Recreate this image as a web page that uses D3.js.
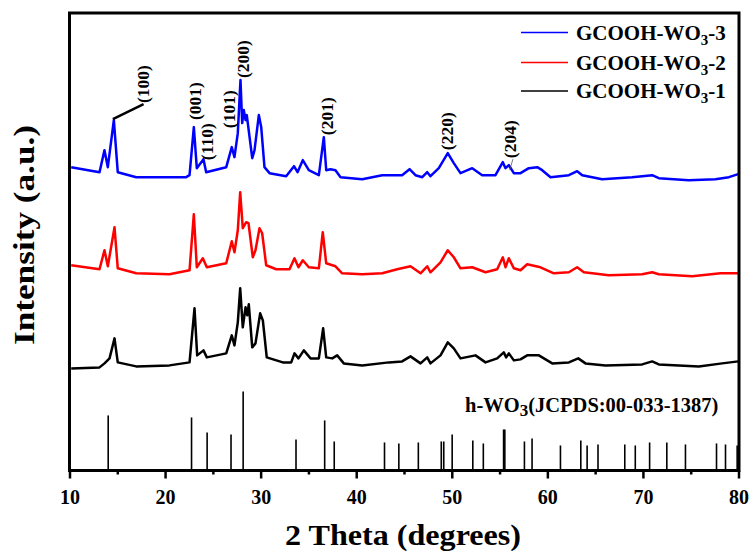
<!DOCTYPE html>
<html>
<head>
<meta charset="utf-8">
<script src="https://cdn.jsdelivr.net/npm/d3@7"></script>
<style>
  html, body { margin: 0; padding: 0; background: #fff; }
  svg { display: block; }
  text { font-family: "Liberation Serif", "Times New Roman", serif; font-weight: bold; }
</style>
</head>
<body>
<svg id="chart" width="751" height="551"></svg>
<script>
// ---- data (2θ in degrees, intensity in arbitrary units, offsets included) ----
const seriesNames = ["GCOOH-WO3-3", "GCOOH-WO3-2", "GCOOH-WO3-1"];
const seriesColors = ["#0000ff", "#ff0000", "#000000"];

const blue = [
  [10.18,303],[13.14,298],[13.66,320],[14.01,303],[14.64,350],[15.05,298],[16.98,293],[22.21,293],
  [22.56,295],[23.01,343],[23.32,302],[24.02,311],[24.30,298],[26.40,303],[26.98,323],[27.26,313],
  [27.61,337],[27.89,390],[28.07,347],[28.24,360],[28.42,350],[28.55,355],[29.12,312],[29.36,320],
  [29.81,355],[30.06,343],[30.40,303],[30.93,297],[32.67,294],[33.49,304],[33.86,298],[34.41,310],
  [35.04,300],[36.09,295],[36.61,333],[36.86,300],[37.31,301],[37.83,300],[38.36,293],[40.63,291],
  [42.72,295],[44.80,295],[45.58,301],[46.20,295],[46.91,293],[47.43,298],[47.77,294],[48.64,302],
  [49.58,317],[50.21,307],[50.91,297],[52.14,302],[53.18,295],[54.57,295],[55.34,308],[55.62,302],
  [55.97,305],[56.49,297],[57.19,297],[58.06,302],[58.94,303],[59.46,300],[60.33,293],[62.25,295],
  [63.12,299],[63.65,295],[65.73,291],[68.88,293],[70.97,295],[71.66,292],[74.80,290],[77.59,291],
  [78.99,293],[79.97,296]
];
const red = [
  [10.18,205],[13.14,201],[13.66,220],[14.01,204],[14.71,243],[15.05,202],[16.98,197],[20.46,196],
  [22.56,200],[23.01,256],[23.32,203],[23.95,212],[24.37,203],[26.40,207],[26.98,229],[27.26,218],
  [27.61,240],[27.86,278],[28.13,242],[28.49,248],[28.73,247],[29.18,213],[29.46,220],[29.88,242],
  [30.16,237],[30.58,205],[31.63,201],[33.02,201],[33.54,212],[33.96,203],[34.41,210],[35.04,203],
  [36.09,202],[36.50,238],[36.86,207],[37.83,204],[38.53,197],[40.63,196],[42.72,197],[44.29,201],
  [45.68,204],[46.73,197],[47.43,204],[47.77,198],[48.82,208],[49.58,220],[50.21,213],[50.91,202],
  [52.14,203],[53.53,198],[54.75,201],[55.34,213],[55.62,203],[55.97,212],[56.49,202],[57.19,200],
  [57.89,206],[59.28,203],[60.68,197],[62.25,198],[63.12,203],[63.82,198],[66.43,195],[69.92,196],
  [70.97,198],[71.66,196],[75.16,194],[78.12,197],[79.97,197]
];
const black = [
  [10.18,102],[13.14,103],[13.66,107],[14.19,112],[14.71,132],[15.05,108],[16.98,104],[20.46,105],
  [22.56,108],[23.08,162],[23.36,115],[24.02,120],[24.37,113],[26.40,117],[26.98,135],[27.26,125],
  [27.61,148],[27.86,182],[28.13,143],[28.42,163],[28.59,155],[28.76,166],[29.12,123],[29.46,127],
  [29.95,157],[30.23,150],[30.64,113],[32.32,108],[33.20,108],[33.54,117],[33.96,112],[34.52,120],
  [35.22,112],[36.09,112],[36.54,142],[36.86,113],[37.49,112],[38.01,115],[38.70,107],[40.63,105],
  [43.41,108],[44.80,109],[45.68,114],[46.73,107],[47.43,113],[47.77,107],[48.82,115],[49.58,128],
  [50.21,122],[50.91,112],[52.48,115],[53.53,108],[54.75,112],[55.44,118],[55.69,113],[55.97,117],
  [56.49,110],[57.19,111],[57.89,115],[59.11,115],[60.51,107],[62.25,108],[63.23,112],[63.99,107],
  [66.08,105],[69.92,106],[70.97,109],[71.66,106],[75.85,104],[78.29,107],[79.97,109]
];
const seriesData = [blue, red, black];

// JCPDS 00-033-1387 reference lines: [2θ, relative height]
const jcpds = [
  [14.05,55],[22.77,53],[24.4,38],[26.9,36],[28.17,79],[33.7,31],[36.7,50],[37.7,29],[42.96,28],
  [44.46,27],[46.5,28],[48.9,29],[49.16,29],[50.04,36],[52.2,30],[53.3,27],[55.42,41],[55.55,41],
  [57.6,29],[58.4,32],[61.37,25],[63.5,30],[64.16,25],[65.3,26],[68.1,26],[69.2,25],[70.7,28],
  [72.5,28],[74.45,26],[77.7,27],[78.64,26],[79.86,25]
];

// Miller-index annotations: [label, 2θ of label, intensity at label foot]
const peakLabels = [
  ["(100)",17.68,367],["(001)",23.18,350],["(110)",24.41,310],["(101)",26.74,342],
  ["(200)",28.17,392],["(201)",36.96,335],["(220)",49.52,320],["(204)",56.07,312]
];
const majorTicks = [10,20,30,40,50,60,70,80];
const minorTicks = [15,25,35,45,55,65,75];

// ---- drawing ----
const svg = d3.select("#chart");
const L = 69.5, R = 738.5, T = 13, B = 470.5;
const x = d3.scaleLinear().domain([10,80]).range([L, R]);
const y = d3.scaleLinear().domain([0,457]).range([B, T]);

// JCPDS sticks
svg.append("g").selectAll("line").data(jcpds).join("line")
  .attr("x1", d => x(d[0])).attr("x2", d => x(d[0]))
  .attr("y1", y(0)).attr("y2", d => y(d[1]))
  .attr("stroke", "#000").attr("stroke-width", 1.6);

// curves
const line = d3.line().x(d => x(d[0])).y(d => y(d[1]));
[2,1,0].forEach(i => {
  svg.append("path").datum(seriesData[i])
    .attr("d", line)
    .attr("fill", "none")
    .attr("stroke", seriesColors[i])
    .attr("stroke-width", 2.5)
    .attr("stroke-linejoin", "round");
});

// leader lines
svg.append("line")
  .attr("x1", x(14.54)).attr("y1", y(351))
  .attr("x2", x(17.75)).attr("y2", y(366))
  .attr("stroke", "#000").attr("stroke-width", 2.5);
svg.append("line")
  .attr("x1", x(56.4)).attr("y1", y(311))
  .attr("x2", x(56.05)).attr("y2", y(300))
  .attr("stroke", "#555").attr("stroke-width", 0.8);

// peak labels
svg.append("g").selectAll("text").data(peakLabels).join("text")
  .attr("transform", d => `translate(${x(d[1])},${y(d[2])}) rotate(-90)`)
  .attr("text-anchor", "start")
  .attr("dominant-baseline", "central")
  .attr("font-size", 17.5)
  .text(d => d[0]);

// axes ticks
const gx = svg.append("g").attr("transform", `translate(0,${B})`)
  .call(d3.axisBottom(x).tickValues(majorTicks).tickSize(8).tickSizeOuter(0).tickPadding(11).tickFormat(d3.format("d")));
gx.select(".domain").remove();
gx.selectAll(".tick line").attr("stroke", "#000").attr("stroke-width", 2.5);
gx.selectAll(".tick text").attr("font-size", 20).attr("fill", "#000")
  .style("font-family", "'Liberation Serif', serif").style("font-weight", "bold");
const gm = svg.append("g").attr("transform", `translate(0,${B})`)
  .call(d3.axisBottom(x).tickValues(minorTicks).tickSize(4).tickSizeOuter(0).tickFormat(""));
gm.select(".domain").remove();
gm.selectAll(".tick line").attr("stroke", "#000").attr("stroke-width", 2.5);

// frame
svg.append("rect").attr("x", L).attr("y", T).attr("width", R - L + 0.5).attr("height", B - T)
  .attr("fill", "none").attr("stroke", "#000").attr("stroke-width", 3);

// axis titles
svg.append("text").attr("x", 403).attr("y", 545).attr("text-anchor", "middle")
  .attr("font-size", 30).attr("textLength", 236).attr("lengthAdjust", "spacingAndGlyphs")
  .text("2 Theta (degrees)");
svg.append("text").attr("transform", "translate(34,235) rotate(-90)").attr("text-anchor", "middle")
  .attr("font-size", 30).attr("textLength", 220).attr("lengthAdjust", "spacingAndGlyphs")
  .text("Intensity (a.u.)");

// JCPDS label
const jl = svg.append("text").attr("x", 465).attr("y", 412).attr("font-size", 20.5);
jl.append("tspan").text("h-WO");
jl.append("tspan").attr("dy", 4).attr("font-size", 17).text("3");
jl.append("tspan").attr("dy", -4).text("(JCPDS:00-033-1387)");

// legend
const legendY = [32.5, 62.5, 91];
seriesNames.forEach((name, i) => {
  svg.append("line").attr("x1", 521).attr("x2", 568).attr("y1", legendY[i]).attr("y2", legendY[i])
    .attr("stroke", seriesColors[i]).attr("stroke-width", 1.5);
  const t = svg.append("text").attr("x", 576).attr("y", legendY[i] + 7).attr("font-size", 21);
  const parts = name.match(/^(GCOOH-WO)(3)(-\d)$/);
  t.append("tspan").text(parts[1]);
  t.append("tspan").attr("dy", 5).attr("font-size", 15).text(parts[2]);
  t.append("tspan").attr("dy", -5).text(parts[3]);
});
</script>
</body>
</html>
